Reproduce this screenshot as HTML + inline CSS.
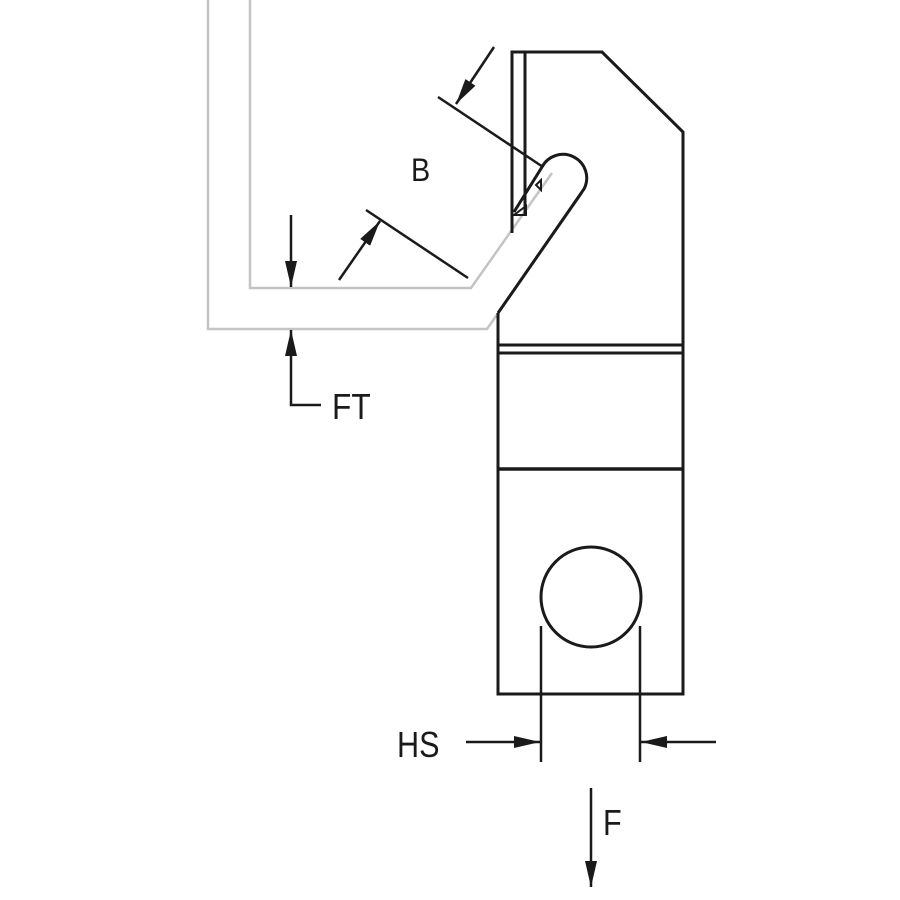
<!DOCTYPE html>
<html><head><style>body{margin:0;background:#fff}svg{display:block}</style></head><body>
<svg width="900" height="900" viewBox="0 0 900 900" xmlns="http://www.w3.org/2000/svg">
<defs>
<marker id="a" viewBox="0 0 26 12" refX="26" refY="6" markerWidth="26" markerHeight="12" markerUnits="userSpaceOnUse" orient="auto"><path d="M0,0 L26,6 L0,12z" fill="#1a1a1a"/></marker>
</defs>
<g fill="none" stroke="#c4c4c4" stroke-width="2.5">
<polyline points="208,0 208,329 487,329 582,193"/>
<polyline points="250,0 250,288 471,288 552,173"/>
</g>
<g fill="none" stroke="#1a1a1a" stroke-width="3" stroke-linejoin="miter">
<polyline points="512,233 512,52 602,52 683,132 683,694 498,694 498,313"/>
<line x1="525" y1="52" x2="525" y2="215"/>
<path d="M498,313 L584,189 A13,13 0 0 0 542,167 L514,212"/>
<path d="M514,215 L526,215 L526,206 Z" stroke-width="2"/>
<path d="M536,185 L541,180 L541,190 Z" stroke-width="2"/>
<line x1="498" y1="345" x2="683" y2="345"/>
<line x1="498" y1="353" x2="683" y2="353"/>
<line x1="498" y1="469" x2="683" y2="469" stroke-width="3.5"/>
<circle cx="591" cy="597" r="50"/>
</g>
<g fill="none" stroke="#1a1a1a" stroke-width="2.5">
<line x1="438" y1="97" x2="543" y2="167"/>
<line x1="494" y1="47" x2="456" y2="104" marker-end="url(#a)"/>
<line x1="366" y1="210" x2="468" y2="278"/>
<line x1="339" y1="280" x2="380" y2="221" marker-end="url(#a)"/>
<line x1="291" y1="215" x2="291" y2="287" marker-end="url(#a)"/>
<polyline points="321,405 291,405 291,330" marker-end="url(#a)"/>
<line x1="541" y1="626" x2="541" y2="762"/>
<line x1="640" y1="626" x2="640" y2="762"/>
<line x1="466" y1="742" x2="540" y2="742" marker-end="url(#a)"/>
<line x1="716" y1="742" x2="641" y2="742" marker-end="url(#a)"/>
<line x1="591" y1="788" x2="591" y2="887" marker-end="url(#a)"/>
</g>
<g font-family="Liberation Sans, sans-serif" font-size="36" fill="#1a1a1a">
<text x="411" y="181" font-size="32" transform="translate(411 0) scale(0.9 1) translate(-411 0)">B</text>
<text x="332" y="419" transform="translate(332 0) scale(0.88 1) translate(-332 0)">FT</text>
<text x="397" y="757" transform="translate(397 0) scale(0.85 1) translate(-397 0)">HS</text>
<text x="603" y="835" transform="translate(603 0) scale(0.85 1) translate(-603 0)">F</text>
</g>
</svg>
</body></html>
